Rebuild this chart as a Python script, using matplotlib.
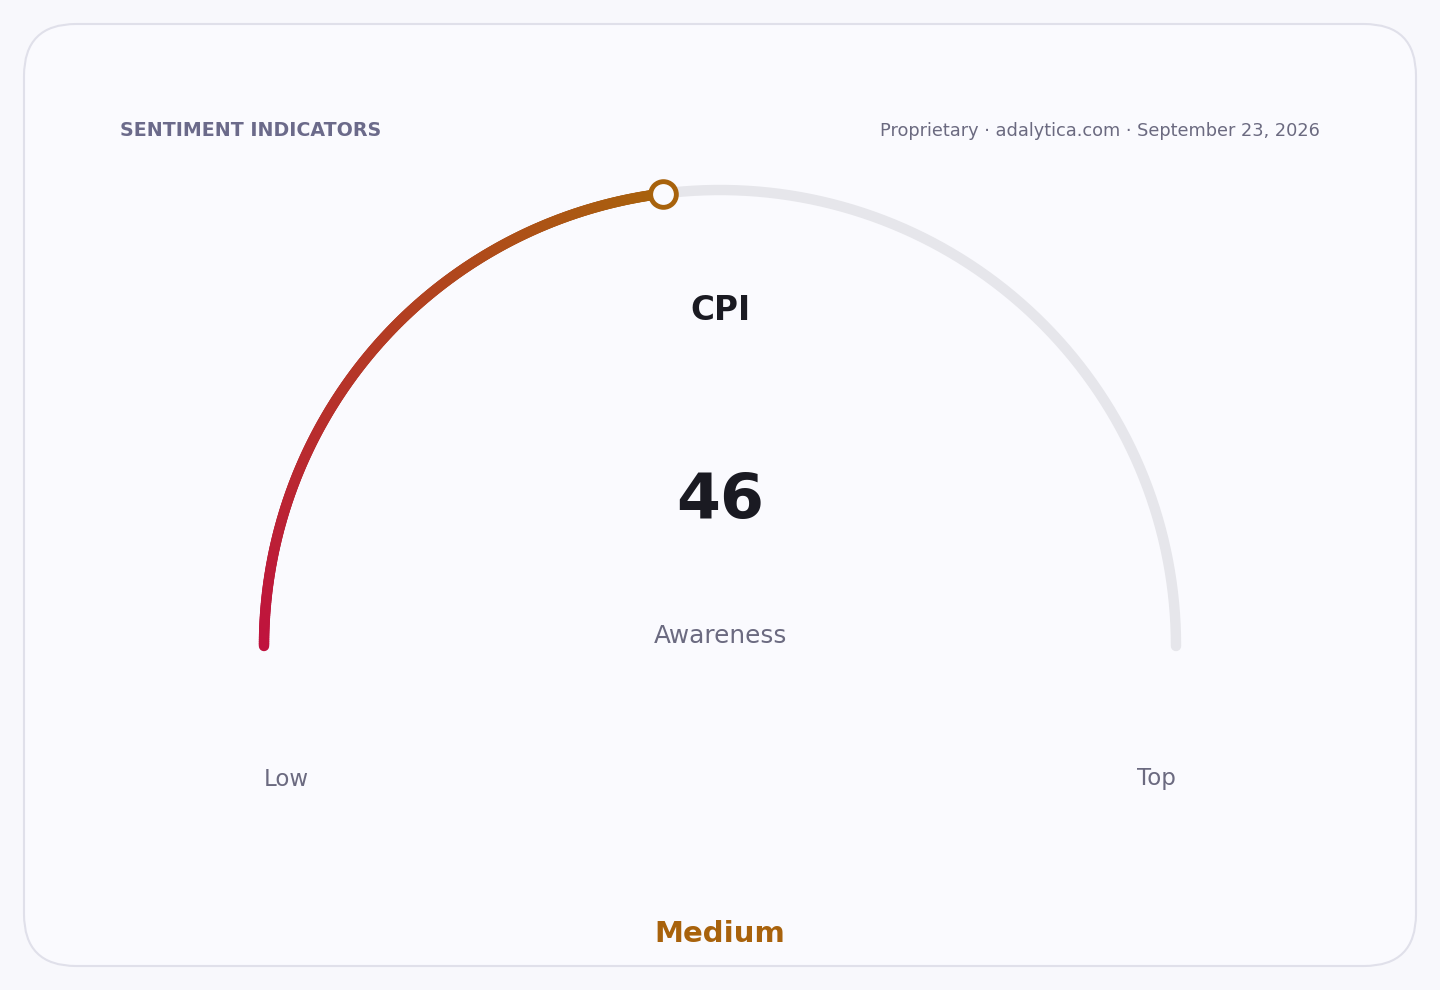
import numpy as np
import matplotlib
matplotlib.use('Agg')
import matplotlib.pyplot as plt
from matplotlib.collections import LineCollection
from matplotlib.patches import FancyBboxPatch
from matplotlib.colors import to_rgb

plt.rcParams['font.family'] = ['DejaVu Sans']

# data
title = 'SENTIMENT INDICATORS'
source = 'Proprietary · adalytica.com · September 23, 2026'
metric = 'CPI'
value = 46
vmin, vmax = 0, 100
subtitle = 'Awareness'
end_labels = ['Low', 'Top']
band_label = 'Medium'

W, H = 1440, 990
fig = plt.figure(figsize=(W / 100, H / 100), dpi=100)
fig.patch.set_facecolor('#f8f8fc')
ax = fig.add_axes([0, 0, 1, 1])
ax.set_xlim(0, W)
ax.set_ylim(H, 0)
ax.set_aspect('equal')
ax.axis('off')

card = FancyBboxPatch((24, 24), 1392, 942, boxstyle='round,pad=0,rounding_size=52',
                      facecolor='#fafafe', edgecolor='#e0e0ea', linewidth=1.5)
ax.add_patch(card)

cx, cy, r = 720, 646, 456
lw = 7.5

# background track
t = np.linspace(np.pi, 0, 400)
ax.plot(cx + r * np.cos(t), cy - r * np.sin(t), color='#e6e6eb', lw=lw,
        solid_capstyle='round', zorder=2)

# value arc with gradient
frac = (value - vmin) / (vmax - vmin)
t_end = np.pi - frac * np.pi
tv = np.linspace(np.pi, t_end, 300)
xs = cx + r * np.cos(tv)
ys = cy - r * np.sin(tv)
pts = np.column_stack([xs, ys]).reshape(-1, 1, 2)
segs = np.concatenate([pts[:-1], pts[1:]], axis=1)
c0 = np.array(to_rgb('#c0123e'))
c1 = np.array(to_rgb('#a8620c'))
k = np.linspace(0, 1, len(segs))[:, None]
cols = c0 * (1 - k) + c1 * k
lc = LineCollection(segs, colors=cols, linewidths=lw, capstyle='round', zorder=3)
ax.add_collection(lc)

# marker at value
ax.plot(cx + r * np.cos(t_end), cy - r * np.sin(t_end), 'o', ms=18.5,
        mfc='#fafafe', mec='#a8620c', mew=3.5, zorder=4)

ax.text(120, 131, title, fontsize=13.7, fontweight='bold', color='#6b6a8a',
        ha='left', va='center')
ax.text(1320, 131, source, fontsize=12.8, color='#6b6a80', ha='right', va='center')

ax.text(cx, 311, metric, fontsize=23.5, fontweight='bold', color='#1a1a22',
        ha='center', va='center')
ax.text(cx, 501, str(value), fontsize=45.5, fontweight='bold', color='#1a1a22',
        ha='center', va='center')
ax.text(cx, 636, subtitle, fontsize=17.8, color='#6b6a80', ha='center', va='center')

ax.text(286, 779, end_labels[0], fontsize=16.5, color='#6b6a80', ha='center', va='center')
ax.text(1156, 779, end_labels[1], fontsize=16.5, color='#6b6a80', ha='center', va='center')

ax.text(cx, 934, band_label, fontsize=21, fontweight='bold', color='#a8620c',
        ha='center', va='center')

fig.savefig('out.png', dpi=100, facecolor=fig.get_facecolor())
